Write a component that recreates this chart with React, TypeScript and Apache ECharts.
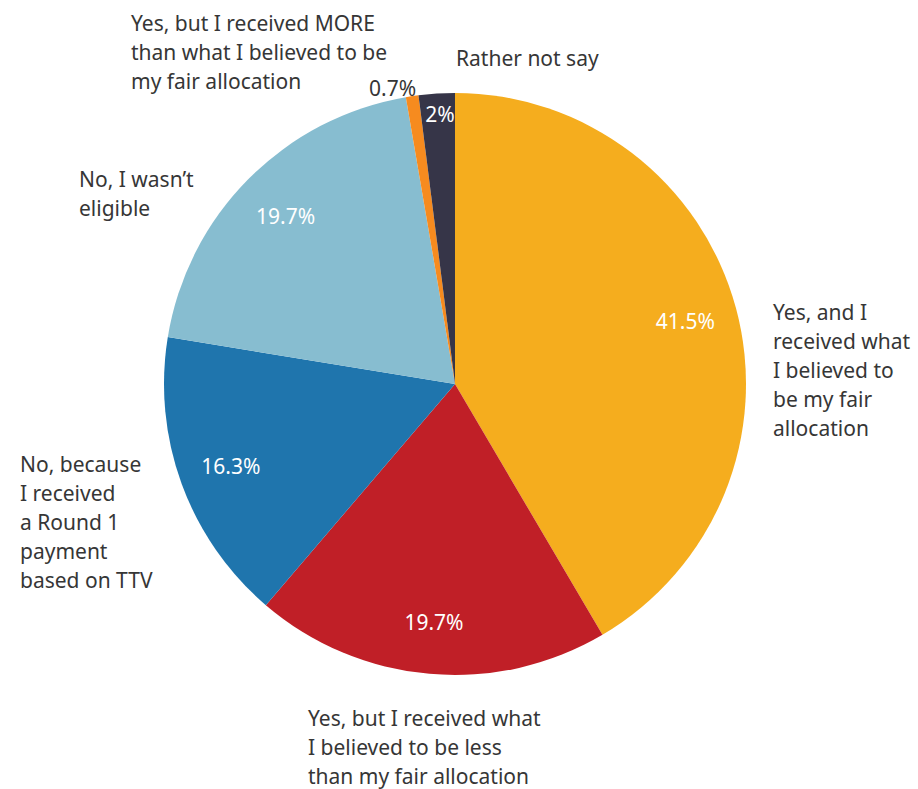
import React, { useEffect, useRef } from "react";
import * as echarts from "echarts";

const categories = [
  "Yes, and I received what I believed to be my fair allocation",
  "Yes, but I received what I believed to be less than my fair allocation",
  "No, because I received a Round 1 payment based on TTV",
  "No, I wasn't eligible",
  "Yes, but I received MORE than what I believed to be my fair allocation",
  "Rather not say",
];
const values = [41.5, 19.7, 16.3, 19.7, 0.7, 2];
const colors = ["#F5AD1E", "#C01F27", "#1F75AD", "#87BDD0", "#F68B1F", "#363548"];

const outsideLabels = [
  "Yes, and I\nreceived what\nI believed to\nbe my fair\nallocation",
  "Yes, but I received what\nI believed to be less\nthan my fair allocation",
  "No, because\nI received\na Round 1\npayment\nbased on TTV",
  "No, I wasn\u2019t\neligible",
  "Yes, but I received MORE\nthan what I believed to be\nmy fair allocation",
  "Rather not say",
];
const labelPos: [number, number][] = [
  [773, 297],
  [308, 703],
  [20, 449],
  [79, 164],
  [131, 8],
  [456, 43],
];

const FONT = "'Noto Sans', Roboto, sans-serif";
const FS = 21;

export default function App() {
  const ref = useRef<HTMLDivElement>(null);
  useEffect(() => {
    document.body.style.margin = "0";
    const chart = echarts.init(ref.current!, null, { renderer: "svg" });
    const R = 291;
    const data = categories.map((c, i) => ({
      name: c,
      value: values[i],
      itemStyle: { color: colors[i] },
    }));
    const labelData = categories.map((c, i) => ({
      name: c,
      value: values[i],
      label:
        i === 4
          ? { show: false }
          : i === 5
          ? { show: true, offset: [0, -32] }
          : { show: true },
    }));
    const graphics: any[] = outsideLabels.map((t, i) => ({
      type: "text",
      x: labelPos[i][0],
      y: labelPos[i][1],
      style: {
        text: t,
        fill: "#363636",
        font: `${FS}px ${FONT}`,
        lineHeight: 29,
        verticalAlign: "top",
      },
    }));
    graphics.push({
      type: "text",
      x: 369,
      y: 73,
      style: {
        text: `${values[4]}%`,
        fill: "#363636",
        font: `${FS}px ${FONT}`,
        lineHeight: 29,
        verticalAlign: "top",
      },
    });
    chart.setOption({
      animation: false,
      backgroundColor: "#ffffff",
      series: [
        {
          type: "pie",
          center: [455, 384],
          radius: [0, R],
          startAngle: 90,
          clockwise: true,
          label: { show: false },
          labelLine: { show: false },
          itemStyle: { borderWidth: 0 },
          data,
          silent: true,
        },
        {
          type: "pie",
          center: [455, 384],
          radius: [R * 0.62, R],
          startAngle: 90,
          clockwise: true,
          itemStyle: { color: "rgba(0,0,0,0)" },
          label: {
            position: "inside",
            formatter: "{c}%",
            color: "#ffffff",
            fontSize: FS,
            fontFamily: FONT,
          },
          labelLine: { show: false },
          data: labelData,
          silent: true,
        },
      ],
      graphic: graphics,
    });
    return () => chart.dispose();
  }, []);
  return <div ref={ref} style={{ width: 918, height: 789 }} />;
}
